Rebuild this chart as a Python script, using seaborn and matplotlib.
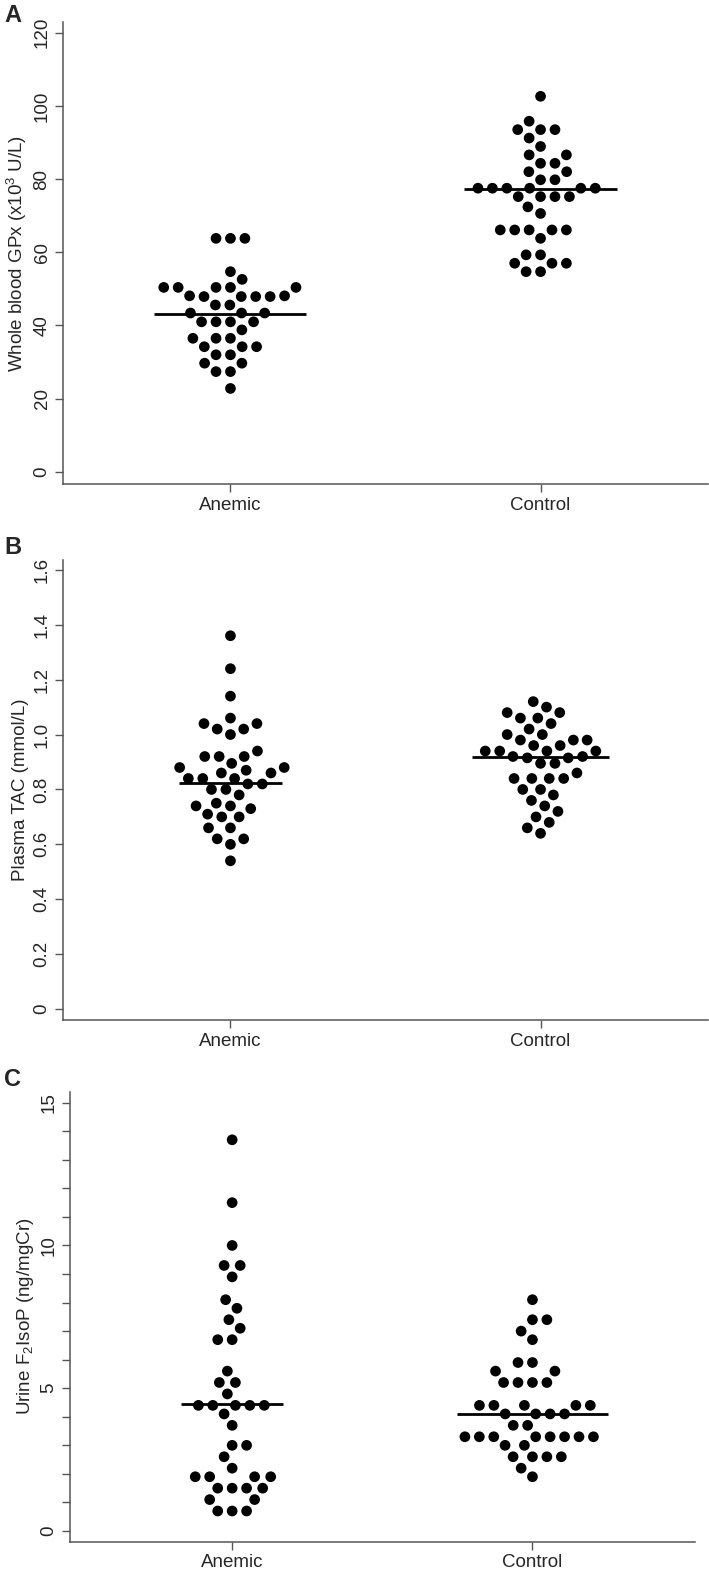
"""
Three-panel dot plots (anemic vs control): whole blood GPx, plasma TAC, urine F2-IsoP.
Writes out.png next to the script.
"""
import matplotlib
matplotlib.use("Agg")
import matplotlib.pyplot as plt
from matplotlib.ticker import MultipleLocator
import pandas as pd
import seaborn as sns

GROUPS = ["Anemic", "Control"]

# ── values ───────────────────────────────────────────────────────────────────

GPX_ANEMIC = [63.8, 63.8, 63.8, 54.7, 52.6, 50.4, 50.4, 50.4, 50.4, 50.4,
              47.9, 47.9, 47.9, 47.9, 48.1, 48.1, 45.6, 45.6, 43.4, 43.4,
              43.4, 41.0, 41.0, 41.0, 41.0, 38.8, 36.5, 36.5, 36.5, 34.2,
              34.2, 34.2, 32.0, 32.0, 29.7, 29.7, 27.4, 27.4, 22.8]
GPX_CONTROL = [102.6, 95.8, 93.5, 93.5, 93.5, 91.2, 88.9, 86.6, 86.6, 84.3,
               84.3, 82.0, 82.0, 79.8, 79.8, 77.5, 77.5, 77.5, 77.5, 77.5,
               77.5, 75.2, 75.2, 75.2, 75.2, 72.4, 70.6, 66.1, 66.1, 66.1,
               66.1, 66.1, 63.8, 59.3, 59.3, 57.0, 57.0, 57.0, 54.7, 54.7]
GPX_MEDIAN = [43.1, 77.2]

TAC_ANEMIC = [1.36, 1.24, 1.14, 1.06, 1.00, 0.94, 0.92, 0.895, 0.87, 0.84,
              0.78, 0.75, 0.73, 0.71, 0.60, 0.54,
              1.04, 1.02, 0.86, 0.82, 0.80, 0.66, 0.62,
              1.04, 1.02, 0.86, 0.82, 0.80, 0.66, 0.62,
              0.92, 0.88, 0.84, 0.74, 0.70,
              0.92, 0.88, 0.84, 0.74, 0.70]
TAC_CONTROL = [1.12, 1.10, 1.04, 1.02, 0.98, 0.86, 0.78, 0.76, 0.74, 0.72,
               0.70, 0.68, 0.66, 0.64,
               1.08, 1.06, 1.00, 0.96, 0.94, 0.915, 0.895, 0.84, 0.80,
               1.08, 1.06, 1.00, 0.96, 0.94, 0.915, 0.895, 0.84, 0.80,
               0.98, 0.98,
               0.94, 0.92, 0.84, 0.94, 0.92, 0.84]
TAC_MEDIAN = [0.825, 0.92]

ISOP_ANEMIC = [13.7, 11.5, 10.0, 9.3, 9.3, 8.9, 8.1, 7.8, 7.4, 7.1,
               6.7, 6.7, 5.6, 5.2, 5.2, 4.8, 4.4, 4.4, 4.4, 4.4,
               4.4, 4.1, 3.7, 3.0, 3.0, 2.6, 2.2, 1.9, 1.9, 1.9,
               1.9, 1.5, 1.5, 1.5, 1.5, 1.1, 1.1, 0.7, 0.7, 0.7]
ISOP_CONTROL = [8.1, 7.4, 7.4, 7.0, 6.7, 5.9, 5.9, 5.6, 5.6, 5.2,
                5.2, 5.2, 5.2, 4.4, 4.4, 4.4, 4.4, 4.4, 4.1, 4.1,
                4.1, 4.1, 3.7, 3.7, 3.3, 3.3, 3.3, 3.3, 3.3, 3.3,
                3.3, 3.3, 3.0, 3.0, 2.6, 2.6, 2.6, 2.6, 2.2, 1.9]
ISOP_MEDIAN = [4.44, 4.09]

TAC_TICKS = ["0", "0.2", "0.4", "0.6", "0.8", "1.0", "1.2", "1.4", "1.6"]

# ── style ────────────────────────────────────────────────────────────────────

sns.set_style("ticks")
plt.rcParams["font.family"] = ["Liberation Sans", "DejaVu Sans"]
plt.rcParams["mathtext.fontset"] = "custom"
plt.rcParams["mathtext.rm"] = "Liberation Sans"
plt.rcParams["mathtext.it"] = "Liberation Sans"

AXIS_GREY = "#555555"
FS = 13.5
DOT = 7.7
# invisible edge: only widens the spacing the swarm keeps between dots
GAP = 2.2
W, H = 709, 1576


def long_form(anemic, control):
    return pd.DataFrame({
        "group": ["Anemic"] * len(anemic) + ["Control"] * len(control),
        "value": anemic + control,
    })


def dot_panel(ax, anemic, control, medians, half_widths, ylim, ylabel):
    sns.swarmplot(
        data=long_form(anemic, control), x="group", y="value",
        order=GROUPS, color="black", size=DOT, linewidth=GAP,
        edgecolor="none", ax=ax,
    )
    for i, (m, hw) in enumerate(zip(medians, half_widths)):
        ax.hlines(m, i - hw, i + hw, color="black", linewidth=2.0, zorder=3)

    ax.set_xlim(-0.54, 1.54)
    ax.set_ylim(*ylim)
    ax.set_xlabel("")
    ax.set_ylabel(ylabel, fontsize=FS, labelpad=3)
    sns.despine(ax=ax)
    for side in ("left", "bottom"):
        ax.spines[side].set_color(AXIS_GREY)
        ax.spines[side].set_linewidth(1.1)
    ax.tick_params(axis="both", which="both", color=AXIS_GREY, width=1.0,
                   labelsize=FS, length=5.5)
    ax.tick_params(axis="y", which="both", labelrotation=90)
    for lbl in ax.get_yticklabels():
        lbl.set_va("center")


fig = plt.figure(figsize=(W / 100, H / 100), dpi=100)

# ── A. whole blood GPx ───────────────────────────────────────────────────────
ax_a = fig.add_axes([63 / W, 1 - 484 / H, 645 / W, 462 / H])
ax_a.yaxis.set_major_locator(MultipleLocator(20))
dot_panel(ax_a, GPX_ANEMIC, GPX_CONTROL, GPX_MEDIAN, [0.245, 0.246],
          (-3.3, 122.9), "Whole blood GPx (x10$^3$ U/L)")

# ── B. plasma TAC ────────────────────────────────────────────────────────────
ax_b = fig.add_axes([63 / W, 1 - 1020 / H, 645 / W, 460 / H])
dot_panel(ax_b, TAC_ANEMIC, TAC_CONTROL, TAC_MEDIAN, [0.165, 0.222],
          (-0.04, 1.636), "Plasma TAC (mmol/L)")
ax_b.set_yticks([float(t) for t in TAC_TICKS], TAC_TICKS, va="center")

# ── C. urine F2-isoprostanes ─────────────────────────────────────────────────
ax_c = fig.add_axes([70 / W, 1 - 1541.7 / H, 624.6 / W, 450 / H])
ax_c.yaxis.set_major_locator(MultipleLocator(5))
ax_c.yaxis.set_minor_locator(MultipleLocator(1))
dot_panel(ax_c, ISOP_ANEMIC, ISOP_CONTROL, ISOP_MEDIAN, [0.17, 0.25],
          (-0.375, 15.385), "Urine F$_2$IsoP (ng/mgCr)")

for letter, top in (("A", 4), ("B", 536), ("C", 1068)):
    fig.text(4 / W, 1 - top / H, letter, fontsize=17, fontweight="bold",
             va="top", ha="left")

plt.savefig("out.png", dpi=100)
plt.close()
